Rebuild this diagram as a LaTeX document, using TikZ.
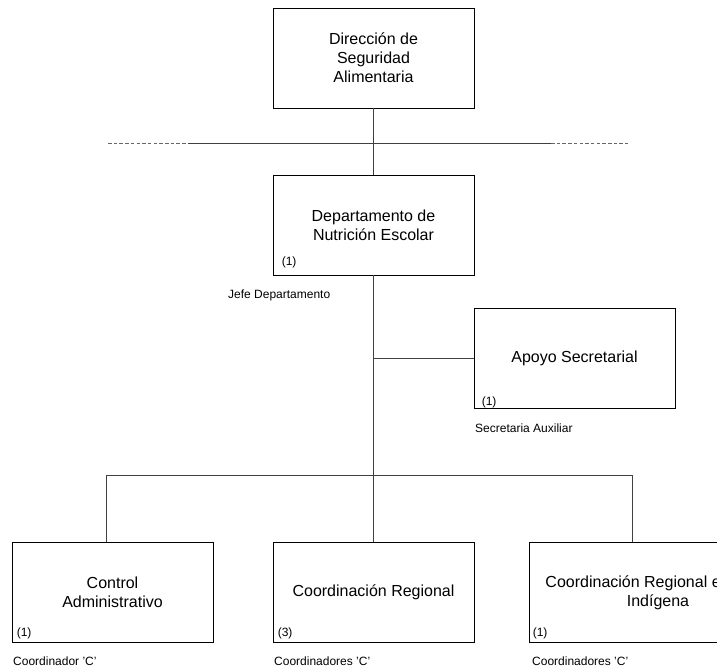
\documentclass[tikz,border=0pt]{standalone}
\usepackage{fontspec}
\setmainfont{Liberation Sans}
\usetikzlibrary{positioning}

\tikzset{
    unit/.style={draw=black, line width=0.8pt, minimum width=201pt, minimum height=100pt,
        align=center, inner sep=3pt, font=\fontsize{16}{19}\selectfont},
    count/.style={inner sep=0pt, font=\fontsize{12}{14}\selectfont},
    post/.style={inner sep=0pt, anchor=west, font=\fontsize{12}{14}\selectfont},
    link/.style={black!75, line width=0.9pt},
    dashlink/.style={black!60, line width=0.9pt, dash pattern=on 3.5pt off 2.2pt}
}

\begin{document}
\begin{tikzpicture}[x=1pt,y=-1pt]
    \useasboundingbox (0,0) rectangle (717,670);

    % Boxes
    \node[unit] (dir) at (373.5,58) {Dirección de\\Seguridad\\Alimentaria};
    \node[unit] (dep) at (373.5,225) {Departamento de\\Nutrición Escolar};
    \node[unit] (apoyo) at (574.5,358.5) {Apoyo Secretarial};
    \node[unit] (ctrl) at (112.5,592.5) {Control\\Administrativo};
    \node[unit] (reg) at (373.5,592.5) {Coordinación Regional};
    \node[unit, minimum width=258pt] (ind) at (658,592.5)
        {Coordinación Regional e\phantom{n Zona}\\Indígena};

    % Counts
    \node[count, above right=7pt and 9pt of dep.south west] (depn) {(1)};
    \node[count, above right=1pt and 8pt of apoyo.south west] (apoyon) {(1)};
    \node[count, above right=4pt and 5pt of ctrl.south west] (ctrln) {(1)};
    \node[count, above right=4pt and 5pt of reg.south west] (regn) {(3)};
    \node[count, above right=4pt and 4pt of ind.south west] (indn) {(1)};

    % Posts
    \node[post] (jefe) at (228,295) {Jefe Departamento};
    \node[post] (secr) at (475,428) {Secretaria Auxiliar};
    \node[post] (ctrlp) at (13,661) {Coordinador 'C'};
    \node[post] (regp) at (274,661) {Coordinadores 'C'};
    \node[post] (indp) at (532,661) {Coordinadores 'C'};

    % Level line
    \coordinate (lvlA) at (108,143);
    \coordinate (solA) at (188,143);
    \coordinate (solB) at (551,143);
    \coordinate (lvlB) at (628,143);
    \draw[dashlink] (lvlA) -- (solA);
    \draw[link] (solA) -- (solB);
    \draw[dashlink] (solB) -- (lvlB);

    % Connectors
    \draw[link] (dir) -- (dep);
    \coordinate (busL) at (106,475);
    \coordinate (busR) at (632,475);
    \draw[link] (dep) -- (dep |- busL);
    \draw[link] (apoyo) -- (apoyo -| dep);
    \draw[link] (busL) -- (busR);
    \draw[link] (busL) -- (busL |- ctrl.north);
    \draw[link] (dep |- busL) -- (reg);
    \draw[link] (busR) -- (busR |- ind.north);
\end{tikzpicture}
\end{document}
